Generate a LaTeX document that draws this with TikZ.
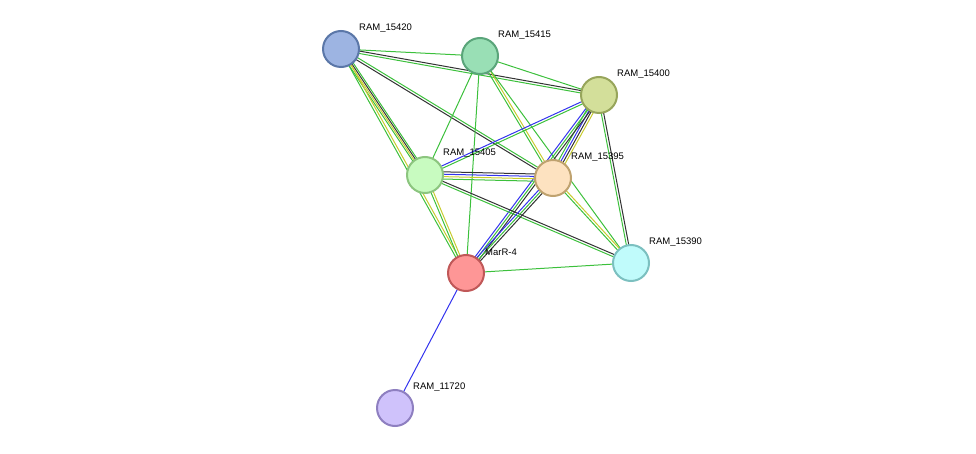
\documentclass[tikz,border=0pt]{standalone}
\usepackage{fontspec}
\setmainfont{Liberation Sans}
\usetikzlibrary{calc}
\definecolor{eg}{HTML}{3CC03C}
\definecolor{ek}{HTML}{333333}
\definecolor{eb}{HTML}{3333EE}
\definecolor{ey}{HTML}{C8CC30}
\tikzset{
  prot/.style={circle,minimum size=36pt,inner sep=0pt,line width=2pt},
  lbl/.style={anchor=west,font=\fontsize{9.5pt}{10pt}\selectfont,inner sep=0pt},
  ed/.style={line width=1pt}
}
\newcommand\edg[3]{\foreach \c/\o in {#3}{\draw[ed,\c] ($(#1)!\o pt!90:(#2)$) -- ($(#2)!\o pt!-90:(#1)$);}}
\begin{document}
\begin{tikzpicture}[x=1pt,y=-1pt]
\useasboundingbox (0,0) rectangle (976,454);
\coordinate (a) at (341,49);
\coordinate (b) at (480,56);
\coordinate (c) at (599,95);
\coordinate (d) at (425,175);
\coordinate (e) at (553,178);
\coordinate (f) at (631,263);
\coordinate (g) at (466,273);
\coordinate (h) at (395,408);
\edg{a}{b}{eg/0}
\edg{a}{c}{eg/-1.2,ek/1.2}
\edg{a}{d}{eg/-2.4,ey/-0.8,ek/0.8,eg/2.4}
\edg{a}{e}{ek/-1.2,eg/1.2}
\edg{a}{g}{eg/-1.2,ey/1.2}
\edg{b}{c}{eg/0}
\edg{b}{d}{eg/0}
\edg{b}{e}{eg/-1.2,ey/1.2}
\edg{b}{g}{eg/0}
\edg{b}{f}{eg/0}
\edg{c}{d}{eb/-1.2,eg/1.2}
\edg{c}{e}{eg/-3.6,eb/-1.2,ek/1.2,ey/3.6}
\edg{c}{f}{eg/-1.2,ek/1.2}
\edg{c}{g}{eb/-2.4,eg/0,ek/2.4}
\edg{d}{e}{eg/-3.6,ey/-1.2,eb/1.2,ek/3.6}
\edg{d}{g}{eg/-1.2,ey/1.2}
\edg{d}{f}{eg/-1.2,ek/1.2}
\edg{e}{f}{eg/-1.2,ey/1.2}
\edg{e}{g}{eb/-2.4,eg/0,ek/2.4}
\edg{g}{f}{eg/0}
\edg{g}{h}{eb/0}
\node[prot,fill={rgb,255:red,157;green,180;blue,226},draw={rgb,255:red,91;green,119;blue,168}] (n1) at (a) {};
\node[prot,fill={rgb,255:red,153;green,223;blue,181},draw={rgb,255:red,90;green,165;blue,122}] (n2) at (b) {};
\node[prot,fill={rgb,255:red,211;green,223;blue,154},draw={rgb,255:red,151;green,165;blue,91}] (n3) at (c) {};
\node[prot,fill={rgb,255:red,200;green,251;blue,192},draw={rgb,255:red,140;green,197;blue,127}] (n4) at (d) {};
\node[prot,fill={rgb,255:red,253;green,226;blue,192},draw={rgb,255:red,191;green,162;blue,111}] (n5) at (e) {};
\node[prot,fill={rgb,255:red,192;green,251;blue,251},draw={rgb,255:red,124;green,192;blue,192}] (n6) at (f) {};
\node[prot,fill={rgb,255:red,254;green,150;blue,150},draw={rgb,255:red,192;green,88;blue,88}] (n7) at (g) {};
\node[prot,fill={rgb,255:red,207;green,194;blue,251},draw={rgb,255:red,142;green,127;blue,192}] (n8) at (h) {};
\node[lbl] (l1) at (359,28) {RAM\_15420};
\node[lbl] (l2) at (498,35) {RAM\_15415};
\node[lbl] (l3) at (617,74) {RAM\_15400};
\node[lbl] (l4) at (443,153) {RAM\_15405};
\node[lbl] (l5) at (571,157) {RAM\_15395};
\node[lbl] (l6) at (649,242) {RAM\_15390};
\node[lbl] (l7) at (485,252) {MarR-4};
\node[lbl] (l8) at (413,387) {RAM\_11720};
\end{tikzpicture}
\end{document}
